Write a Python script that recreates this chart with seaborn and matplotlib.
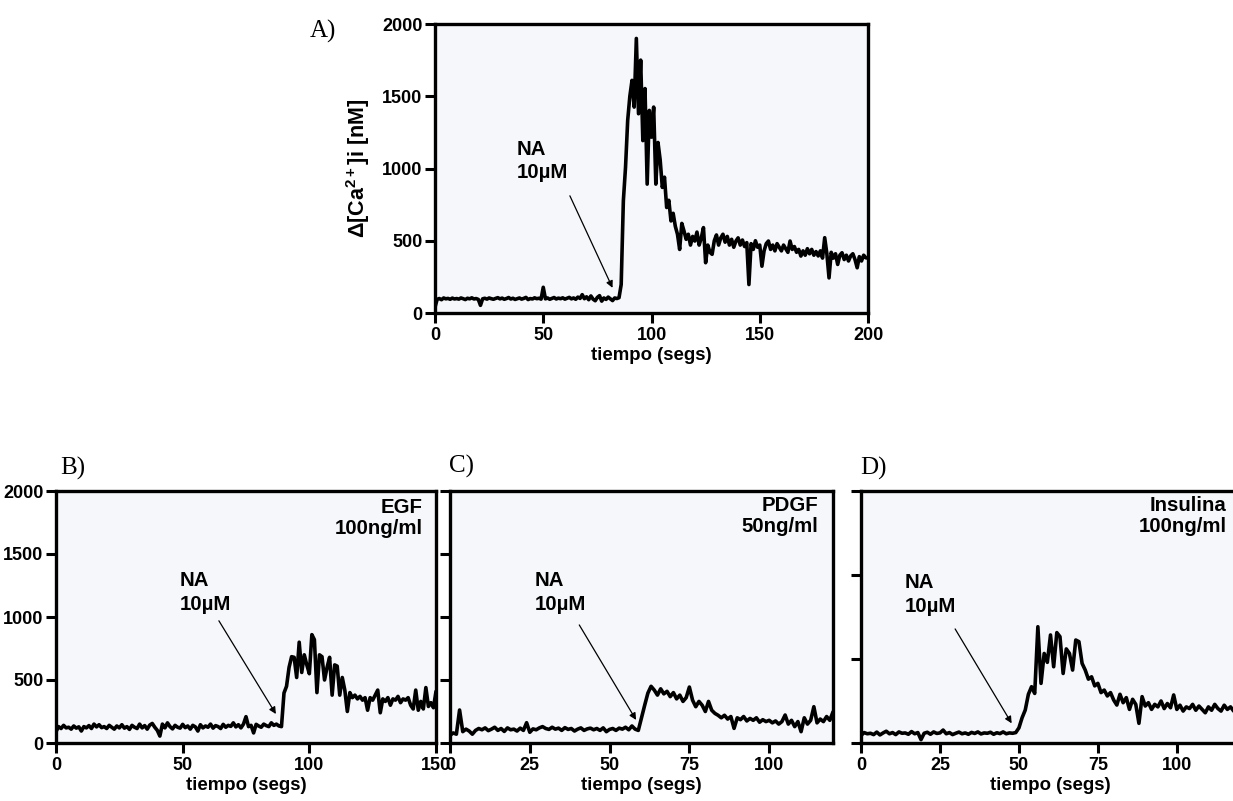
import numpy as np
import pandas as pd
import matplotlib
matplotlib.use("Agg")
import matplotlib.pyplot as plt
import seaborn as sns

# ---------------------------------------------------------------------------
# Calcium traces, one sample per second
# ---------------------------------------------------------------------------
ca_a = [
    40, 95, 100, 92, 104, 98, 101, 95, 103, 97,
    100, 96, 104, 99, 93, 102, 98, 105, 97, 100,
    94, 53, 98, 102, 96, 104, 99, 95, 101, 106,
    98, 103, 95, 100, 107, 97, 102, 94, 99, 104,
    96, 101, 108, 93, 100, 97, 105, 99, 102, 96,
    178, 98, 104, 95, 101, 107, 97, 103, 99, 105,
    96, 102, 108, 98, 104, 95, 110, 101, 127, 99,
    112, 92, 118, 96, 85, 108, 120, 82, 104, 94,
    110, 98, 86, 104, 100, 106, 197, 776, 1008, 1333,
    1500, 1610, 1425, 1900, 1379, 1750, 1193, 1553, 892, 1402,
    1217, 1425, 892, 1180, 1060, 869, 940, 730, 780, 637,
    690, 600, 545, 440, 620, 568, 510, 545, 470, 530,
    498, 560, 470, 520, 591, 348, 470, 420, 406, 500,
    540, 470, 520, 545, 490, 530, 470, 510, 455, 498,
    520, 470, 505, 460, 487, 197, 480, 440, 500, 455,
    470, 324, 430, 480, 498, 440, 470, 430, 480, 455,
    430, 470, 445, 420, 498, 440, 460, 420, 440, 394,
    430, 400, 445, 410, 440, 400, 425, 395, 430, 380,
    521, 410, 243, 420, 380, 410, 336, 400, 417, 370,
    400, 360, 395, 410, 370, 313, 390, 360, 400, 382,
    380,
]

ca_b = [
    90, 130, 115, 140, 120, 125, 110, 135, 118, 128,
    95, 130, 120, 138, 115, 150, 128, 145, 122, 130,
    115, 140, 125, 110, 135, 120, 145, 118, 130, 108,
    140, 125, 115, 150, 120, 138, 110, 142, 155, 125,
    100, 55, 150, 120, 160, 130, 112, 140, 125, 118,
    148, 122, 135, 110, 140, 128, 95, 145, 120, 135,
    125, 150, 118, 138, 130, 115, 148, 125, 140, 132,
    160, 128, 145, 120, 150, 209, 130, 140, 80, 148,
    135, 125, 150, 138, 130, 160, 140, 150, 135, 130,
    397, 450, 600, 685, 680, 520, 800, 560, 700, 620,
    550, 860, 820, 400, 700, 685, 500, 600, 680, 380,
    620, 610, 380, 520, 420, 250, 400, 360, 380, 350,
    370, 340, 360, 260, 360, 340, 380, 420, 240, 350,
    330, 360, 300, 350, 340, 370, 320, 350, 340, 360,
    300, 270, 420, 260, 330, 270, 440, 290, 320, 280,
    410,
]

ca_c = [
    60, 80, 70, 262, 90, 110, 95, 70, 100, 115,
    105, 120, 98, 110, 125, 100, 115, 92, 120, 105,
    110, 95, 118, 100, 161, 85, 112, 105, 120, 130,
    115, 108, 125, 110, 118, 100, 122, 108, 115, 95,
    110, 120, 100, 112, 118, 105, 115, 100, 120, 90,
    108, 115, 100, 118, 110, 125, 105, 135, 110, 100,
    200, 300, 396, 450, 420, 380, 430, 390, 410, 368,
    400, 350, 380, 330, 360, 444, 340, 288, 330, 300,
    250, 330, 260, 235, 220, 200, 220, 190, 210, 116,
    200, 185, 210, 175, 195, 180, 200, 165, 185, 170,
    180, 160, 175, 150, 170, 222, 150, 180, 130, 170,
    90, 200, 150, 180, 288, 160, 190, 170, 210, 180,
    247,
]

ca_d = [
    45, 62, 55, 58, 50, 65, 48, 60, 70, 55,
    62, 50, 66, 58, 60, 52, 68, 55, 62, 20,
    58, 64, 52, 66, 57, 60, 77, 55, 62, 50,
    58, 65, 55, 60, 52, 63, 57, 66, 54, 60,
    58, 64, 52, 61, 56, 66, 55, 60, 58, 62,
    90, 150, 196, 290, 335, 295, 692, 355, 533, 480,
    643, 454, 657, 633, 414, 560, 533, 434, 613, 603,
    474, 434, 380, 394, 340, 355, 300, 315, 280, 300,
    256, 226, 290, 240, 270, 200, 260, 230, 117, 276,
    220, 240, 200, 230, 215, 250, 205, 235, 210, 286,
    200, 225, 190, 215, 205, 230, 195, 220, 200, 180,
    215, 195, 230, 205, 190, 225, 200, 215, 190, 210,
    205,
]

panel_letters = ["A)", "B)", "C)", "D)"]
treatments = [None, "EGF\n100ng/ml", "PDGF\n50ng/ml", "Insulina\n100ng/ml"]
stimulus = "NA\n10µM"
x_title = "tiempo (segs)"
y_title = r"Δ[Ca$^{2+}$]i [nM]"

# ---------------------------------------------------------------------------
# Style
# ---------------------------------------------------------------------------
sns.set_style("ticks")
plt.rcParams["font.family"] = ["Liberation Sans", "DejaVu Sans"]
plt.rcParams["mathtext.fontset"] = "custom"
plt.rcParams["mathtext.rm"] = "Liberation Sans:bold"
plt.rcParams["mathtext.bf"] = "Liberation Sans:bold"
plt.rcParams["mathtext.default"] = "bf"
for key in ["text.color", "axes.labelcolor", "xtick.color", "ytick.color",
            "xtick.labelcolor", "ytick.labelcolor"]:
    plt.rcParams[key] = "black"

W, H = 1233, 801
fig = plt.figure(figsize=(W / 100, H / 100), dpi=100)

FACE = "#F6F7FA"
TRACE_LW = 2.6
SPINE_LW = 2.4
TICK_FS = 13
LABEL_FS = 13.4
NOTE_FS = 14.7


def px_rect(left, right, top, bottom):
    return [left / W, 1 - bottom / H, (right - left) / W, (bottom - top) / H]


def draw_panel(rect, t, ca, xlim, xticks, ylim, yticks, show_ylabels,
               note_xy, arrow_from, arrow_to, treat=None, treat_xy=None):
    ax = fig.add_axes(rect)
    ax.set_facecolor(FACE)
    df = pd.DataFrame({"t": t, "ca": ca})
    sns.lineplot(data=df, x="t", y="ca", ax=ax, color="black",
                 linewidth=TRACE_LW, estimator=None, sort=False)
    ax.set_xlim(*xlim)
    ax.set_ylim(*ylim)
    ax.set_xticks(xticks)
    ax.set_yticks(yticks)
    ax.set_xticklabels([str(v) for v in xticks], fontweight="bold",
                       fontsize=TICK_FS, color="black")
    if show_ylabels:
        ax.set_yticklabels([str(v) for v in yticks], fontweight="bold",
                           fontsize=TICK_FS, color="black")
    else:
        ax.set_yticklabels([])
    for side in ["left", "right", "top", "bottom"]:
        ax.spines[side].set_visible(True)
        ax.spines[side].set_linewidth(SPINE_LW)
        ax.spines[side].set_color("black")
    ax.tick_params(axis="both", direction="out", length=7, width=2.2, color="black")
    ax.tick_params(axis="y", pad=2)
    ax.tick_params(axis="x", pad=3)
    ax.set_xlabel(x_title, fontweight="bold", fontsize=LABEL_FS, labelpad=2,
                  color="black")
    ax.set_ylabel("")
    ax.text(note_xy[0], note_xy[1], stimulus, ha="left", va="top", color="black",
            fontsize=NOTE_FS, fontweight="bold", linespacing=1.3)
    ax.annotate("", xy=arrow_to, xytext=arrow_from,
                arrowprops=dict(arrowstyle="-|>", color="black", lw=0.9,
                                mutation_scale=10, shrinkA=0, shrinkB=0))
    if treat is not None:
        ax.text(treat_xy[0], treat_xy[1], treat, ha="right", va="top",
                color="black", fontsize=NOTE_FS, fontweight="bold",
                linespacing=1.15)
    return ax


# Panel A
ax_a = draw_panel(px_rect(435, 868, 24, 313), np.arange(len(ca_a)), ca_a,
                  (0, 200), [0, 50, 100, 150, 200], (0, 2000),
                  [0, 500, 1000, 1500, 2000], True,
                  (37.7, 1200), (62.3, 811), (82.0, 174))
ax_a.set_ylabel(y_title, fontsize=15.5, fontweight="bold", labelpad=7,
                color="black")

# Panel B
draw_panel(px_rect(56, 436, 491, 743), np.arange(len(ca_b)), ca_b,
           (0, 150), [0, 50, 100, 150], (0, 2000),
           [0, 500, 1000, 1500, 2000], True,
           (48.9, 1365), (64.3, 970), (86.8, 230),
           treatments[1], (144.7, 1945))

# Panel C
draw_panel(px_rect(450, 833, 491, 743), np.arange(len(ca_c)), ca_c,
           (0, 120), [0, 25, 50, 75, 100], (0, 2000),
           [0, 500, 1000, 1500, 2000], False,
           (26.6, 1365), (40.5, 937), (58.3, 183),
           treatments[2], (115.5, 1960))

# Panel D (runs slightly past the right edge of the canvas)
draw_panel(px_rect(861, 1240, 491, 743), np.arange(len(ca_d)), ca_d,
           (0, 120), [0, 25, 50, 75, 100], (0, 1500),
           [0, 500, 1000, 1500], False,
           (13.9, 1010), (29.8, 679), (47.7, 117),
           treatments[3], (115.8, 1470))

# Panel letters
letter_pos = [(310, 20), (60, 457), (449, 455), (860, 457)]
for letter, (px, py) in zip(panel_letters, letter_pos):
    fig.text(px / W, 1 - py / H, letter, family="Liberation Serif",
             fontsize=18, ha="left", va="top", color="black")

fig.savefig("out.png", dpi=100, facecolor="white")
